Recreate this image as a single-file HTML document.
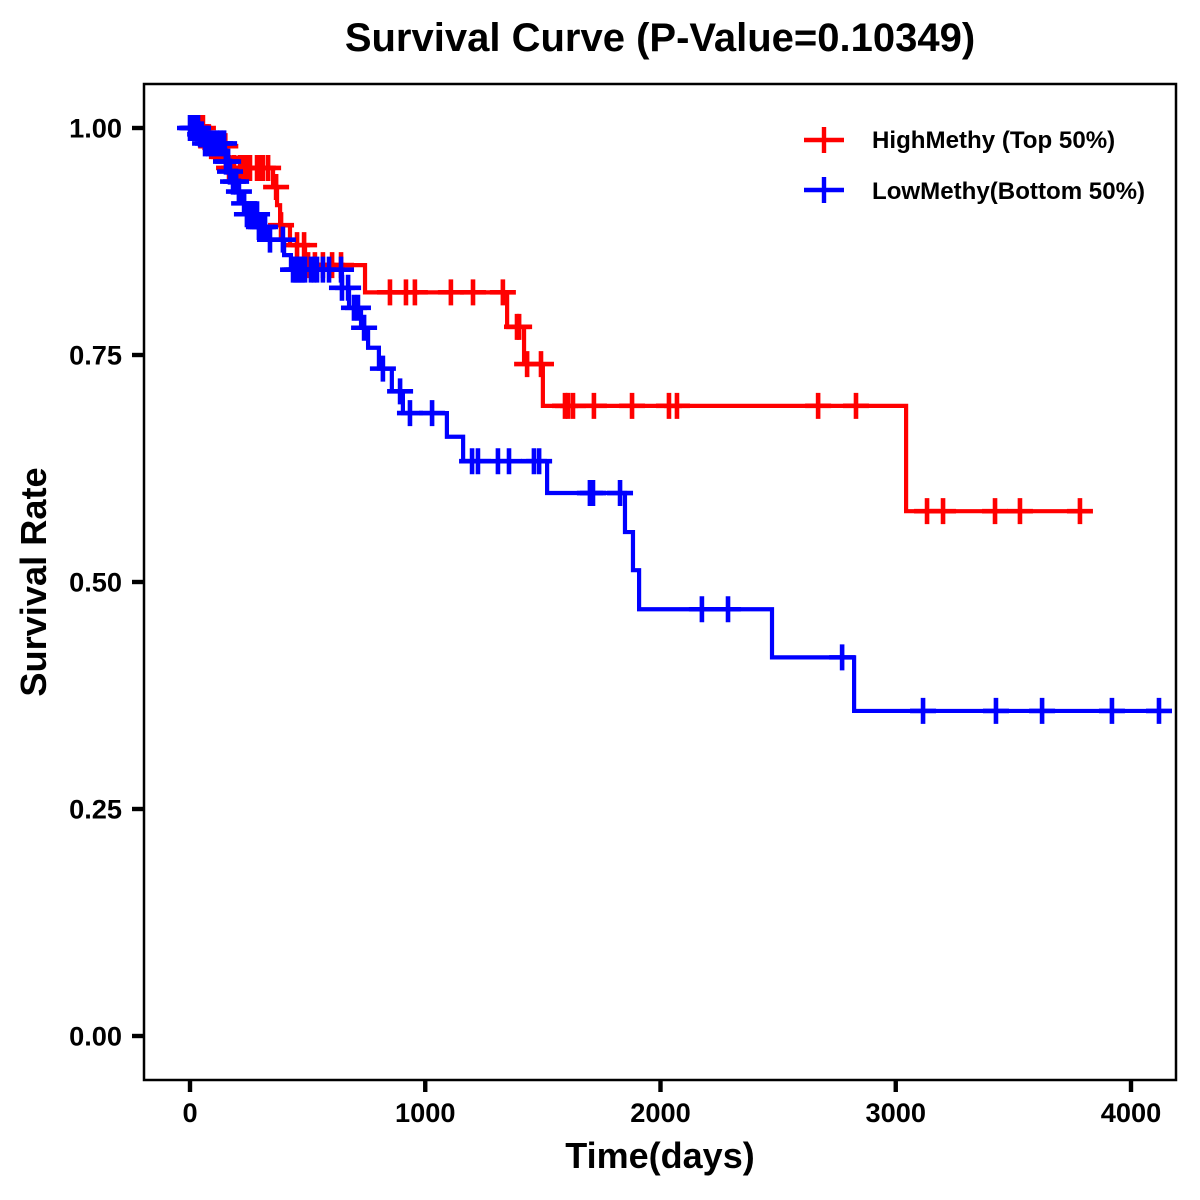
<!DOCTYPE html>
<html>
<head>
<meta charset="utf-8">
<title>Survival Curve</title>
<style>
html,body{margin:0;padding:0;background:#fff;}
svg{display:block;}
text{font-family:"Liberation Sans",sans-serif;font-weight:bold;fill:#000;}
</style>
</head>
<body>
<svg id="chart" width="1200" height="1200" viewBox="0 0 1200 1200" xmlns="http://www.w3.org/2000/svg">
  <rect x="0" y="0" width="1200" height="1200" fill="#fff"/>
  <text x="660" y="51" font-size="40" text-anchor="middle">Survival Curve (P-Value=0.10349)</text>
  <text x="660" y="1168" font-size="36" text-anchor="middle">Time(days)</text>
  <text transform="translate(46 582) rotate(-90)" font-size="36.2" text-anchor="middle">Survival Rate</text>
  <g id="ticks"></g>
  <g id="series"></g>
  <rect x="144" y="84" width="1032" height="996" fill="none" stroke="#000" stroke-width="2.5"/>
  <g>
    <g>
      <path d="M804 140H844M824 127V153" stroke="#f00" stroke-width="4.4" fill="none"/>
      <text x="872" y="148" font-size="24.1">HighMethy (Top 50%)</text>
    </g>
    <g>
      <path d="M804 190H844M824 177V203" stroke="#00f" stroke-width="4.4" fill="none"/>
      <text x="872" y="199" font-size="24.1">LowMethy(Bottom 50%)</text>
    </g>
  </g>
</svg>
<script>
const xTicks = [0, 1000, 2000, 3000, 4000];
const yTicks = [0, 0.25, 0.5, 0.75, 1];
const yTickLabels = ['0.00', '0.25', '0.50', '0.75', '1.00'];

const highStepTimes = [0, 60, 85, 152, 160, 353, 370, 383, 425, 489, 744, 1348, 1420, 1500, 3044];
const highStepSurv = [1, 0.990, 0.980, 0.967, 0.956, 0.935, 0.915, 0.893, 0.871, 0.849, 0.819, 0.781, 0.740, 0.694, 0.578];
const highCensorTimes = [26, 38, 55, 62, 72, 80, 90, 100, 120, 140, 150, 153, 166, 187, 213, 230, 242, 255, 285, 298, 310, 332, 366, 387, 455, 485, 502, 531, 565, 604, 642, 850, 918, 956, 1109, 1203, 1330, 1390, 1399, 1433, 1492, 1594, 1607, 1628, 1717, 1879, 2036, 2070, 2670, 2831, 3133, 3201, 3422, 3528, 3783];

const lowStepTimes = [0, 38, 55, 149, 152, 166, 179, 200, 217, 238, 290, 327, 400, 429, 646, 676, 727, 757, 803, 858, 905, 1092, 1161, 1518, 1849, 1883, 1909, 2474, 2823];
const lowStepSurv = [1, 0.993, 0.983, 0.974, 0.963, 0.952, 0.941, 0.930, 0.917, 0.905, 0.891, 0.877, 0.860, 0.844, 0.824, 0.802, 0.780, 0.758, 0.735, 0.710, 0.686, 0.660, 0.633, 0.598, 0.555, 0.513, 0.470, 0.417, 0.358];
const lowCensorTimes = [0, 8, 13, 17, 21, 25, 30, 34, 43, 50, 64, 77, 89, 102, 115, 128, 145, 153, 162, 170, 183, 196, 208, 230, 242, 251, 259, 268, 276, 285, 293, 302, 310, 319, 340, 395, 438, 446, 455, 463, 472, 480, 489, 514, 527, 540, 565, 591, 642, 646, 672, 697, 714, 740, 820, 893, 935, 1029, 1199, 1224, 1309, 1356, 1462, 1484, 1700, 1713, 1828, 2176, 2287, 2772, 3116, 3426, 3622, 3919, 4119];

const NS = 'http://www.w3.org/2000/svg';
function xScale(t) { return 190 + t * 0.23525; }
function yScale(s) { return 1036 - s * 908; }
function survAt(times, surv, t) {
  let v = surv[0];
  for (let i = 0; i < times.length; i++) { if (times[i] <= t) v = surv[i]; }
  return v;
}
function make(tag, parent) {
  const el = document.createElementNS(NS, tag);
  parent.appendChild(el);
  return el;
}
const ticksG = document.getElementById('ticks');
xTicks.forEach(function (t) {
  const px = xScale(t);
  const line = make('line', ticksG);
  
  
  line.setAttribute('x1', px); line.setAttribute('x2', px);
  line.setAttribute('y1', 1080); line.setAttribute('y2', 1092);
  line.setAttribute('stroke', '#000'); line.setAttribute('stroke-width', 4.4);
  const label = make('text', ticksG);
  
  
  label.setAttribute('x', px); label.setAttribute('y', 1122);
  label.setAttribute('font-size', 27.2);
  label.setAttribute('text-anchor', 'middle');
  label.textContent = String(t);
});
yTicks.forEach(function (v, i) {
  const py = yScale(v);
  const line = make('line', ticksG);
  
  
  line.setAttribute('x1', 132); line.setAttribute('x2', 144);
  line.setAttribute('y1', py); line.setAttribute('y2', py);
  line.setAttribute('stroke', '#000'); line.setAttribute('stroke-width', 4.4);
  const label = make('text', ticksG);
  
  
  label.setAttribute('x', 122); label.setAttribute('y', py + 9.5);
  label.setAttribute('font-size', 27.2);
  label.setAttribute('text-anchor', 'end');
  label.textContent = yTickLabels[i];
});
function drawSeries(key, color, times, surv, censors) {
  const host = document.getElementById('series');
  const g = make('g', host);
  
  
  const last = censors[censors.length - 1];
  let d = 'M' + xScale(times[0]) + ' ' + yScale(surv[0]);
  for (let i = 1; i < times.length; i++) {
    d += 'H' + xScale(times[i]) + 'V' + yScale(surv[i]);
  }
  d += 'H' + xScale(Math.max(last, times[times.length - 1]));
  const path = make('path', g);
  
  
  path.setAttribute('d', d);
  path.setAttribute('fill', 'none');
  path.setAttribute('stroke', color);
  path.setAttribute('stroke-width', 4.2);
  censors.forEach(function (t) {
    const px = xScale(t);
    const py = yScale(survAt(times, surv, t));
    const mark = make('path', g);
    
    
    mark.setAttribute('d', 'M' + (px - 13) + ' ' + py + 'H' + (px + 13) + 'M' + px + ' ' + (py - 13) + 'V' + (py + 13));
    mark.setAttribute('fill', 'none');
    mark.setAttribute('stroke', color);
    mark.setAttribute('stroke-width', 4.6);
  });
}
drawSeries('high-methy', '#ff0000', highStepTimes, highStepSurv, highCensorTimes);
drawSeries('low-methy', '#0000ff', lowStepTimes, lowStepSurv, lowCensorTimes);
</script>
</body>
</html>
